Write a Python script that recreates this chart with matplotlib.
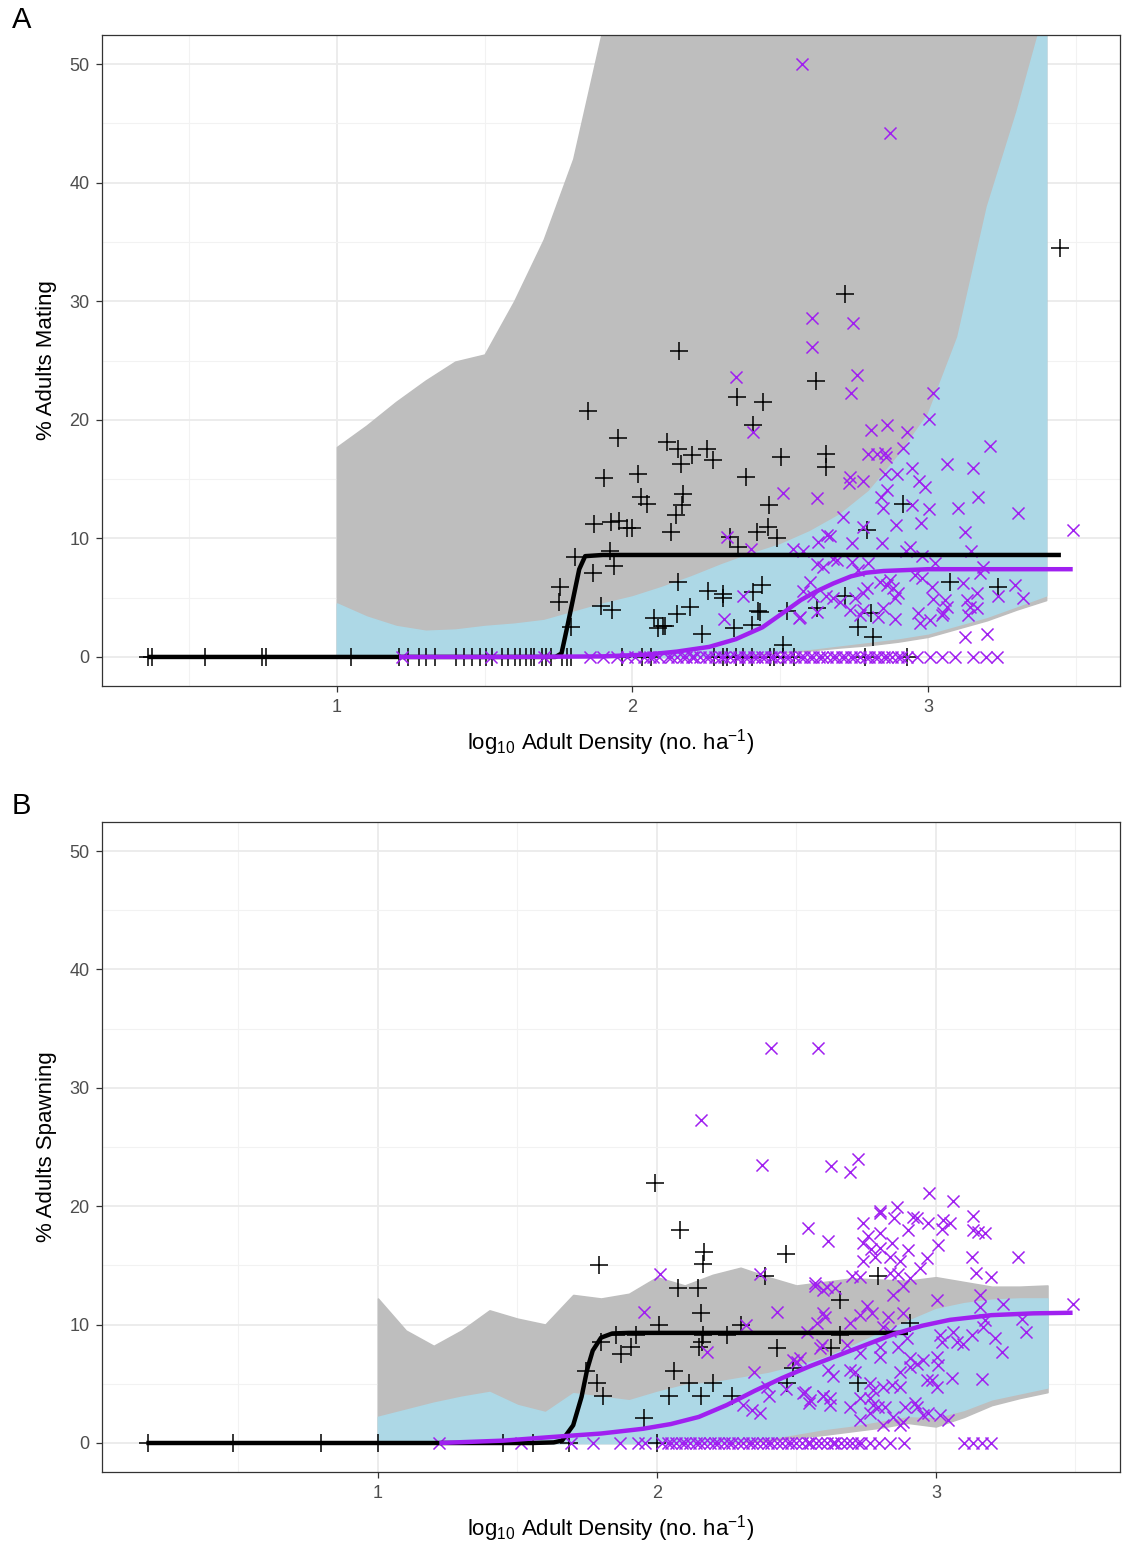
import numpy as np
import matplotlib
matplotlib.use("Agg")
import matplotlib.pyplot as plt
from matplotlib.ticker import MultipleLocator

plt.rcParams['font.family'] = ['Liberation Sans', 'DejaVu Sans']
plt.rcParams['mathtext.fontset'] = 'custom'
plt.rcParams['mathtext.rm'] = 'Liberation Sans'
plt.rcParams['mathtext.it'] = 'Liberation Sans:italic'

# ---------------- Panel A : % adults mating ----------------
# bootstrap envelopes
env_x = [1.0, 1.1, 1.2, 1.3, 1.4, 1.5, 1.6, 1.7, 1.8, 1.9, 2.0, 2.1, 2.2,
         2.3, 2.4, 2.5, 2.6, 2.7, 2.8, 2.9, 3.0, 3.1, 3.2, 3.3, 3.4]
a_grey_hi = [17.7, 19.5, 21.5, 23.3, 24.9, 25.5, 30.0, 35.2, 42.0, 53, 60, 60, 60,
             60, 60, 60, 60, 60, 60, 60, 60, 60, 60, 60, 60]
a_grey_lo = [0, 0, 0, 0, 0, 0, 0, 0, 0, 0, 0, 0, 0,
             0.1, 0.2, 0.35, 0.55, 0.8, 1.0, 1.3, 1.7, 2.4, 3.1, 4.0, 4.8]
a_blue_hi = [4.5, 3.4, 2.6, 2.2, 2.3, 2.6, 2.8, 3.1, 3.8, 4.5, 5.1, 5.9, 6.8,
             7.8, 8.7, 9.5, 10.6, 12.0, 14.0, 17.0, 20.5, 27.0, 38.0, 46.0, 55]
a_blue_lo = [0, 0, 0, 0, 0, 0, 0, 0, 0, 0, 0, 0, 0,
             0.15, 0.3, 0.5, 0.7, 1.0, 1.3, 1.6, 2.0, 2.7, 3.4, 4.3, 5.2]

# fitted curves
a_fit1_x = [0.36, 1.74, 1.76, 1.78, 1.80, 1.82, 1.84, 1.90, 3.45]
a_fit1_y = [0, 0, 0.3, 2.6, 5.0, 7.4, 8.5, 8.6, 8.6]
a_fit2_x = [1.21, 1.6, 1.9, 2.05, 2.15, 2.26, 2.35, 2.44, 2.52, 2.57, 2.62,
            2.68, 2.74, 2.79, 2.85, 2.9, 3.0, 3.2, 3.49]
a_fit2_y = [0, 0, 0.05, 0.2, 0.45, 0.85, 1.5, 2.5, 3.9, 4.8, 5.5,
            6.2, 6.8, 7.1, 7.25, 7.3, 7.4, 7.4, 7.4]

# observations, group 1 (+)
a_plus_x = [3.447, 2.719, 2.157, 2.621, 2.354, 2.442, 2.408, 1.850, 1.951, 2.117,
            2.154, 2.201, 2.252, 2.273, 2.164, 2.655, 2.655, 2.503, 2.018, 1.904,
            2.384, 2.028, 2.048, 2.171, 2.167, 2.147, 2.130, 1.870, 1.927, 1.954,
            1.981, 1.998, 2.462, 2.459, 2.421, 2.489, 2.330, 2.357, 2.793, 2.915,
            1.806, 1.866, 1.937, 1.924, 1.755, 1.752, 1.792, 1.894, 1.931, 2.154,
            2.255, 2.306, 2.306, 2.195, 2.151, 2.073, 2.103, 2.110, 2.086, 2.235,
            2.344, 2.404, 2.408, 2.438, 2.425, 2.432, 2.523, 2.509, 2.624, 2.719,
            2.763, 2.807, 2.814, 3.074, 3.237]
a_plus_y = [34.5, 30.6, 25.8, 23.3, 21.9, 21.5, 19.6, 20.7, 18.5, 18.1,
            17.5, 17.0, 17.5, 16.6, 16.3, 17.1, 16.0, 16.9, 15.4, 15.1,
            15.2, 13.5, 12.9, 13.7, 12.8, 12.0, 10.5, 11.2, 11.4, 11.5,
            10.9, 10.9, 12.8, 11.0, 10.5, 10.0, 10.1, 9.3, 10.7, 12.9,
            8.4, 7.1, 7.7, 8.9, 5.9, 4.6, 2.5, 4.3, 4.0, 6.3,
            5.6, 5.3, 5.0, 4.2, 3.6, 3.3, 2.6, 2.6, 2.4, 1.9,
            2.4, 2.7, 5.5, 6.1, 3.9, 3.8, 3.9, 1.0, 4.1, 5.1,
            2.5, 3.7, 1.7, 6.3, 5.9]
a_plus_zero = [0.360, 0.374, 0.553, 0.746, 0.760, 1.047, 1.210, 1.240, 1.277, 1.301,
               1.332, 1.403, 1.430, 1.457, 1.484, 1.504, 1.525, 1.558, 1.579, 1.602,
               1.619, 1.640, 1.657, 1.667, 1.694, 1.707, 1.724, 1.761, 1.778, 1.792,
               1.964, 2.032, 2.063, 2.276, 2.306, 2.320, 2.350, 2.374, 2.404, 2.465,
               2.479, 2.509, 2.547, 2.787, 2.929]

# observations, group 2 (x)
a_x_x = [2.574, 2.871, 2.607, 2.746, 2.607, 2.760, 2.350, 2.739, 3.017, 2.408,
         3.003, 2.861, 2.807, 2.929, 2.915, 3.210, 2.797, 2.827, 2.854, 2.858,
         3.064, 3.152, 2.946, 2.854, 2.895, 2.736, 2.733, 2.780, 2.970, 2.990,
         2.861, 2.841, 2.624, 2.848, 2.946, 3.003, 3.102, 3.169, 3.305, 2.712,
         2.892, 2.976, 3.125, 2.780, 2.668, 2.628, 2.743, 2.844, 2.939, 2.577,
         2.926, 3.146, 2.679, 2.692, 2.743, 2.797, 2.624, 2.645, 2.980, 3.024,
         3.186, 3.176, 2.601, 2.763, 2.838, 2.871, 2.956, 2.980, 3.014, 3.118,
         3.166, 3.294, 3.321, 3.237, 2.577, 2.611, 2.679, 2.702, 2.753, 2.794,
         2.780, 2.861, 2.882, 2.898, 2.888, 3.017, 3.058, 3.064, 3.132, 3.142,
         3.166, 2.736, 2.770, 2.780, 2.831, 2.848, 2.888, 2.966, 2.973, 3.007,
         3.047, 3.051, 3.135, 3.125, 3.200, 2.567, 3.491, 2.509, 2.320, 2.401,
         2.543, 2.658, 2.374, 2.310, 2.563, 2.624, 2.655]
a_x_y = [50.0, 44.2, 28.6, 28.2, 26.1, 23.8, 23.6, 22.3, 22.3, 19.0,
         20.1, 19.6, 19.1, 19.0, 17.6, 17.8, 17.1, 17.1, 17.2, 16.9,
         16.3, 15.9, 15.9, 15.4, 15.4, 15.2, 14.7, 14.8, 14.8, 14.3,
         14.1, 13.5, 13.4, 12.6, 12.8, 12.5, 12.6, 13.5, 12.1, 11.8,
         11.1, 11.3, 10.5, 11.0, 10.2, 9.7, 9.6, 9.6, 9.3, 8.9,
         8.9, 8.9, 8.3, 8.2, 8.0, 7.9, 7.8, 7.6, 8.5, 7.9,
         7.6, 7.1, 6.3, 7.3, 6.3, 6.5, 6.9, 6.7, 5.9, 6.2,
         5.4, 6.1, 5.0, 5.1, 5.6, 5.1, 5.0, 4.6, 5.0, 5.8,
         5.4, 6.1, 5.8, 5.4, 5.0, 4.9, 4.8, 4.2, 4.8, 4.2,
         4.1, 4.0, 3.5, 4.0, 3.4, 4.1, 3.2, 3.7, 2.9, 3.1,
         3.5, 3.7, 3.5, 1.7, 1.9, 3.4, 10.7, 13.8, 10.1, 9.1,
         9.1, 10.3, 5.1, 3.2, 3.3, 3.8, 5.1]
a_x_zero = [1.22, 1.52, 1.70, 1.856, 1.90, 1.947, 1.98, 2.01,
            2.04, 2.06, 2.07, 2.09, 2.12, 2.13, 2.15, 2.17, 2.18, 2.20, 2.21, 2.23,
            2.25, 2.26, 2.28, 2.30, 2.31, 2.33, 2.35, 2.36, 2.38, 2.39, 2.41, 2.42,
            2.44, 2.45, 2.47, 2.48, 2.50, 2.52, 2.53, 2.55, 2.57, 2.58, 2.60, 2.61,
            2.63, 2.64, 2.66, 2.68, 2.69, 2.71, 2.72, 2.74, 2.75, 2.77, 2.79, 2.80,
            2.82, 2.83, 2.85, 2.86, 2.88, 2.90, 2.91, 2.93,
            2.963, 3.007, 3.047, 3.091, 3.152, 3.196, 3.234]

# ---------------- Panel B : % adults spawning ----------------
b_grey_hi = [12.2, 9.5, 8.2, 9.5, 11.2, 10.5, 10.0, 12.5, 12.2, 12.6, 14.0, 13.3, 14.2,
             14.8, 14.0, 13.3, 13.6, 13.9, 13.8, 13.7, 14.0, 13.6, 13.2, 13.2, 13.3]
b_grey_lo = [0, 0, 0, 0, 0, 0, 0, 0, 0, 0, 0, 0, 0,
             0.05, 0.2, 0.45, 0.7, 1.0, 1.3, 1.7, 1.4, 2.2, 3.2, 3.8, 4.3]
b_blue_hi = [2.2, 2.8, 3.4, 3.9, 4.3, 3.2, 2.6, 4.2, 3.9, 3.6, 4.3, 4.9, 5.1,
             5.5, 5.9, 6.5, 7.2, 8.2, 9.3, 10.3, 11.3, 11.8, 12.1, 12.2, 12.2]
b_blue_lo = [0, 0, 0, 0, 0, 0, 0, 0, 0, 0, 0, 0, 0,
             0.15, 0.4, 0.8, 1.2, 1.5, 1.9, 2.3, 2.2, 2.8, 3.7, 4.2, 4.7]

b_fit1_x = [0.17, 1.55, 1.63, 1.66, 1.70, 1.73, 1.75, 1.77, 1.80, 1.84, 1.90, 2.90]
b_fit1_y = [0, 0, 0.05, 0.2, 1.5, 3.9, 6.2, 7.8, 8.9, 9.25, 9.3, 9.3]
b_fit2_x = [1.22, 1.45, 1.62, 1.80, 1.95, 2.05, 2.15, 2.25, 2.35, 2.45, 2.55,
            2.65, 2.75, 2.85, 2.95, 3.05, 3.20, 3.35, 3.49]
b_fit2_y = [0, 0.2, 0.5, 0.8, 1.2, 1.6, 2.2, 3.2, 4.4, 5.5, 6.5,
            7.4, 8.3, 9.2, 9.9, 10.4, 10.8, 10.95, 11.0]

b_plus_x = [1.993, 2.082, 1.792, 2.168, 2.165, 2.462, 2.387, 2.075, 2.147, 2.158,
            2.007, 2.301, 2.165, 2.251, 1.925, 1.853, 1.799, 1.907, 1.871, 2.161,
            2.151, 2.430, 2.487, 1.746, 2.061, 1.785, 2.115, 2.201, 1.806, 2.043,
            2.158, 2.269, 2.466, 1.953, 2.792, 2.656, 2.656, 2.624, 2.907, 2.720]
b_plus_y = [22.0, 18.0, 15.0, 16.1, 15.1, 16.0, 14.1, 13.1, 13.1, 11.0,
            10.0, 10.0, 9.1, 9.1, 9.1, 9.1, 8.5, 8.1, 7.5, 8.5,
            8.1, 8.0, 6.3, 6.1, 6.1, 5.1, 5.1, 5.1, 4.0, 4.0,
            4.0, 4.0, 5.1, 2.1, 14.1, 12.1, 9.1, 8.0, 10.1, 5.1]
b_plus_zero = [0.175, 0.48, 0.795, 1.0, 1.45, 1.555, 1.685, 2.0]

b_x_x = [2.409, 2.577, 2.158, 2.376, 2.624, 2.720, 2.692, 2.975, 2.800, 2.860,
         2.011, 2.369, 2.541, 2.613, 1.953, 2.430, 2.319, 2.179, 2.566, 2.595,
         2.595, 2.573, 2.538, 2.591, 2.487, 2.502, 2.348, 2.394, 2.401, 2.462,
         2.523, 2.545, 2.595, 2.308, 2.341, 2.369,
         3.061, 3.133, 2.738, 2.799, 2.849, 2.918, 2.932, 2.971, 3.025, 3.050,
         3.022, 3.133, 3.151, 3.176, 2.900, 2.756, 2.800, 2.738, 2.842, 2.767,
         2.800, 2.900, 2.871, 3.007, 2.738, 2.781, 2.835, 2.968, 2.943, 3.129,
         3.294, 3.143, 3.197, 2.699, 2.728, 2.835, 2.864, 2.907, 2.566, 2.609,
         2.638, 2.846, 2.882, 3.004, 3.158, 3.158, 3.240, 2.602, 2.753, 2.771,
         2.692, 2.728, 2.828, 2.882, 2.810, 2.835, 2.896, 3.014, 3.022, 3.061,
         3.075, 3.097, 3.129, 3.176, 3.168, 3.211, 3.308, 3.323, 3.237, 3.491,
         2.584, 2.513, 2.681, 2.728, 2.800, 2.800, 2.864, 2.907, 2.932, 2.953,
         3.007, 3.004, 3.057, 2.968, 2.986, 3.004, 3.165, 2.613, 2.631, 2.692,
         2.710, 2.871, 2.907, 2.763, 2.774, 2.810, 2.842, 2.871, 2.530, 2.548,
         2.595, 2.620, 2.620, 2.692, 2.728, 2.763, 2.774, 2.792, 2.817, 2.763,
         2.728, 2.810, 2.846, 2.871, 2.882, 2.889, 2.925, 2.932, 2.953, 2.971,
         3.014, 3.043]
b_x_y = [33.4, 33.4, 27.3, 23.5, 23.4, 24.0, 22.9, 21.1, 19.6, 19.9,
         14.3, 14.3, 18.2, 17.1, 11.1, 11.1, 10.0, 7.7, 13.3, 12.9,
         11.0, 10.1, 9.4, 8.3, 7.0, 6.8, 6.0, 4.7, 4.0, 4.6,
         4.2, 3.4, 4.0, 3.2, 2.8, 2.5,
         20.4, 19.2, 18.6, 19.4, 19.0, 19.1, 19.0, 18.6, 18.8, 18.6,
         18.1, 18.0, 17.8, 17.7, 18.0, 17.5, 17.7, 16.9, 16.9, 16.4,
         16.5, 16.3, 15.4, 16.7, 15.4, 15.7, 15.7, 15.6, 14.8, 15.7,
         15.7, 14.4, 14.0, 14.1, 14.0, 14.4, 14.3, 13.9, 13.5, 13.2,
         13.1, 12.5, 13.3, 12.1, 12.5, 11.5, 11.7, 10.6, 11.6, 11.0,
         10.1, 10.8, 10.6, 11.0, 9.8, 9.5, 8.9, 9.1, 8.5, 9.4,
         8.5, 8.4, 9.1, 10.4, 9.8, 8.9, 10.5, 9.4, 7.7, 11.7,
         8.0, 7.2, 8.3, 7.6, 8.1, 7.3, 8.1, 7.2, 6.7, 7.0,
         6.6, 7.3, 5.5, 5.3, 5.3, 4.7, 5.4, 6.2, 5.7, 6.2,
         6.0, 6.0, 6.4, 5.1, 4.5, 4.7, 4.9, 4.7, 4.3, 3.6,
         4.0, 3.8, 3.2, 3.0, 3.8, 3.8, 3.2, 3.0, 3.0, 2.5,
         1.9, 1.5, 2.2, 1.5, 1.8, 3.0, 3.4, 3.0, 2.4, 2.5,
         2.4, 1.9]
b_x_zero = [1.219, 1.513, 1.692, 1.771, 1.867, 1.932, 1.957,
            2.02, 2.04, 2.05, 2.07, 2.09, 2.10, 2.12, 2.14, 2.15, 2.17, 2.19, 2.21,
            2.22, 2.24, 2.26, 2.27, 2.29, 2.31, 2.33, 2.34, 2.36, 2.38, 2.40, 2.41,
            2.43, 2.45, 2.47, 2.48, 2.50, 2.52, 2.54, 2.55, 2.57, 2.59, 2.61, 2.63,
            2.64, 2.66, 2.68, 2.70, 2.72, 2.73,
            2.763, 2.795, 2.835, 2.885, 3.10, 3.133, 3.165, 3.197]

GREY = '#BEBEBE'
BLUE = '#ADD8E6'
PURPLE = '#A020F0'

fig = plt.figure(figsize=(11.27, 15.44), dpi=100)
axA = fig.add_axes([102 / 1127, 1 - 686 / 1544, 1018 / 1127, 651 / 1544])
axB = fig.add_axes([102 / 1127, 1 - 1472 / 1544, 1018 / 1127, 650 / 1544])


def draw(ax, ghi, glo, bhi, blo, f1x, f1y, f2x, f2y, px, py, pz, xx, xy, xz,
         xlim, ylabel):
    ax.fill_between(env_x, glo, ghi, color=GREY, lw=1.2, ec=GREY, zorder=1)
    ax.fill_between(env_x, blo, bhi, color=BLUE, lw=1.2, ec=BLUE, zorder=2)
    ax.scatter(px, py, marker='+', s=150, c='black', lw=1.1, zorder=4)
    ax.scatter(pz, np.zeros(len(pz)), marker='+', s=150, c='black', lw=1.1, zorder=4)
    ax.scatter(xx, xy, marker='x', s=75, c=PURPLE, lw=1.1, zorder=4)
    ax.scatter(xz, np.zeros(len(xz)), marker='x', s=75, c=PURPLE, lw=1.1, zorder=4)
    ax.plot(f1x, f1y, color='black', lw=3.2, solid_capstyle='butt', zorder=5)
    ax.plot(f2x, f2y, color=PURPLE, lw=3.2, solid_capstyle='butt', zorder=5)

    ax.set_xlim(*xlim)
    ax.set_ylim(-2.45, 52.45)
    ax.set_xticks([1, 2, 3])
    ax.set_yticks([0, 10, 20, 30, 40, 50])
    ax.xaxis.set_minor_locator(MultipleLocator(0.5))
    ax.yaxis.set_minor_locator(MultipleLocator(5))
    ax.grid(which='major', color='#EBEBEB', lw=1.3, zorder=0)
    ax.grid(which='minor', color='#F2F2F2', lw=0.8, zorder=0)
    ax.set_axisbelow(True)
    ax.tick_params(which='minor', length=0)
    ax.tick_params(which='major', length=4, width=0.9, color='#333333',
                   labelsize=13, labelcolor='#4D4D4D', pad=5)
    for s in ax.spines.values():
        s.set_color('#333333')
        s.set_linewidth(0.9)
    ax.set_xlabel('log$_{10}$ Adult Density (no. ha$^{-1}$)', fontsize=16, labelpad=8)
    ax.set_ylabel(ylabel, fontsize=16, labelpad=9)


draw(axA, a_grey_hi, a_grey_lo, a_blue_hi, a_blue_lo, a_fit1_x, a_fit1_y,
     a_fit2_x, a_fit2_y, a_plus_x, a_plus_y, a_plus_zero, a_x_x, a_x_y, a_x_zero,
     (0.205, 3.65), '% Adults Mating')
draw(axB, b_grey_hi, b_grey_lo, b_blue_hi, b_blue_lo, b_fit1_x, b_fit1_y,
     b_fit2_x, b_fit2_y, b_plus_x, b_plus_y, b_plus_zero, b_x_x, b_x_y, b_x_zero,
     (0.011, 3.66), '% Adults Spawning')

fig.text(12 / 1127, 1 - 20 / 1544, 'A', fontsize=21, va='center', ha='left')
fig.text(12 / 1127, 1 - 806 / 1544, 'B', fontsize=21, va='center', ha='left')

fig.savefig('out.png', dpi=100)
